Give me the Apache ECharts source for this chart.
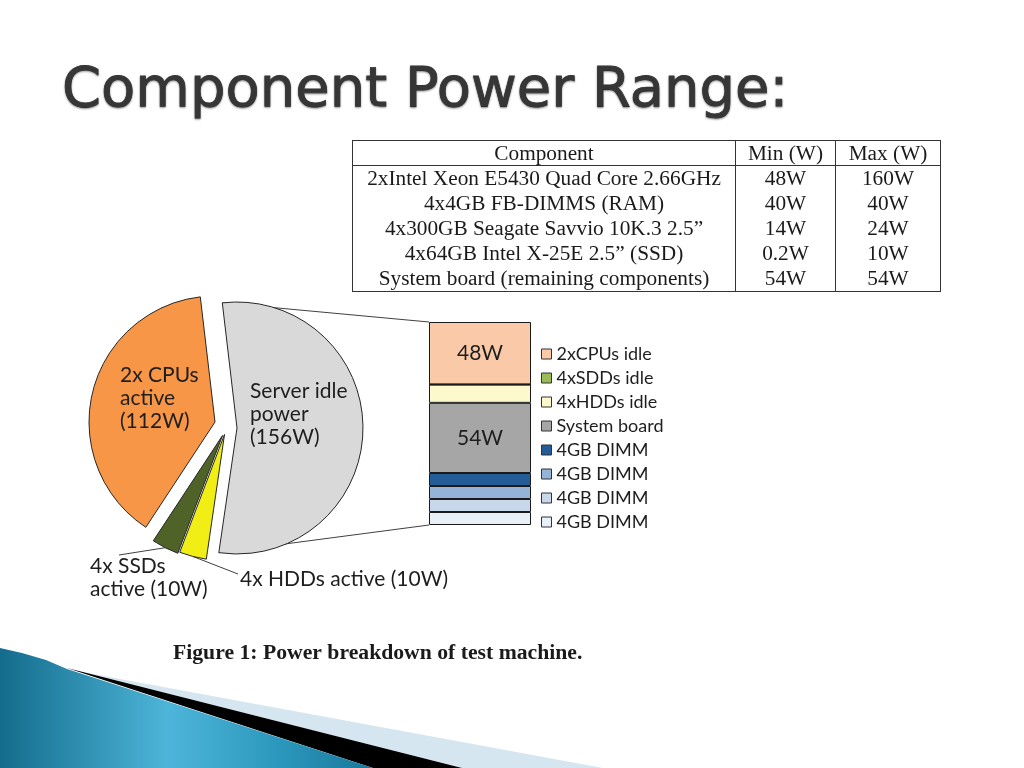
<!DOCTYPE html>
<html><head><meta charset="utf-8">
<script src="https://cdn.jsdelivr.net/npm/echarts@6/dist/echarts.min.js"></script>
<style>
html,body{margin:0;padding:0;background:#fff;}
#chart{position:absolute;left:0;top:0;width:1024px;height:768px;}
#tbl{position:absolute;left:352px;top:140px;border-collapse:collapse;table-layout:fixed;width:589px;font-family:"Liberation Serif",serif;font-size:21.3px;color:#1a1a1a;}
#tbl td{border-left:1px solid #333;border-right:1px solid #333;padding:0;text-align:center;height:25px;line-height:25px;white-space:nowrap;}
#tbl tr.h td{border-top:1px solid #333;border-bottom:1px solid #333;height:24px;line-height:24px;}
#tbl tr:last-child td{border-bottom:1px solid #333;}
</style></head>
<body><div id="chart"></div><table id="tbl"></table>
<script>
// ---- data ----
const tableHeader = ['Component', 'Min (W)', 'Max (W)'];
const tableComponents = ['2xIntel Xeon E5430 Quad Core 2.66GHz', '4x4GB FB-DIMMS (RAM)', '4x300GB Seagate Savvio 10K.3 2.5\u201D', '4x64GB Intel X-25E 2.5\u201D (SSD)', 'System board (remaining components)'];
const tableMin = ['48W', '40W', '14W', '0.2W', '54W'];
const tableMax = ['160W', '40W', '24W', '10W', '54W'];

const pieNames = ['Server idle power', '4x HDDs active', '4x SSDs active', '2x CPUs active'];
const pieValues = [156, 10, 10, 112];
const pieLabels = ['Server idle\npower\n(156W)', '4x HDDs active (10W)', '4x SSDs\nactive (10W)', '2x CPUs\nactive\n(112W)'];

const barNames = ['2xCPUs idle', '4xSDDs idle', '4xHDDs idle', 'System board', '4GB DIMM', '4GB DIMM', '4GB DIMM', '4GB DIMM'];
const barValues = [48, 0.2, 14, 54, 10, 10, 10, 10];
const barSegmentLabels = ['48W', '', '', '54W', '', '', '', ''];

const titleText = 'Component Power Range:';
const captionText = 'Figure 1: Power breakdown of test machine.';

// ---- styles / layout ----
const pieColors = ['#D9D9D9', '#F0EE14', '#4F6228', '#F79646'];
const pieCenters = [[237, 428], [224.5, 434.5], [222.5, 435.5], [215, 422]];
const pieRadius = 126;
const pieStart = 96.7;
const pieLabelPos = [[250, 414], [240, 579], [90, 578], [120, 398]];
const pieLineEnds = [null, [238, 574], [119, 555], null];
const barColors = ['#FAC9A8', '#9BBB59', '#FEF9CC', '#A6A6A6', '#235C97', '#95B3D7', '#C9D7EB', '#E9EFF7'];

// table
(function () {
  let h = '<colgroup><col style="width:383px"><col style="width:100px"><col style="width:105px"></colgroup>';
  h += '<tr class="h">' + tableHeader.map(t => '<td>' + t + '</td>').join('') + '</tr>';
  tableComponents.forEach((c, i) => { h += '<tr><td>' + c + '</td><td>' + tableMin[i] + '</td><td>' + tableMax[i] + '</td></tr>'; });
  document.getElementById('tbl').innerHTML = h;
})();

const chart = echarts.init(document.getElementById('chart'), null, { renderer: 'canvas' });
const labelFont = 'Lato';

const pieSeries = pieValues.map((_, k) => ({
  type: 'pie',
  center: pieCenters[k],
  radius: pieRadius,
  startAngle: pieStart,
  clockwise: true,
  avoidLabelOverlap: false,
  silent: true,
  animation: false,
  data: pieValues.map((v, i) => ({
    name: pieNames[i],
    value: v,
    itemStyle: i === k ? { color: pieColors[i], borderColor: '#262626', borderWidth: 1 } : { color: 'rgba(0,0,0,0)', borderWidth: 0 },
    label: {
      show: i === k,
      position: (i === 0 || i === 3) ? 'inside' : 'outside',
      formatter: pieLabels[i],
      fontFamily: labelFont, fontSize: 21, lineHeight: 23, color: '#1e1e1e'
    },
    labelLine: { show: i === k && (i === 1 || i === 2), length: 8, length2: 8, lineStyle: { color: '#404040', width: 1 } }
  })),
  labelLayout: function (p) {
    if (p.dataIndex !== k) return {};
    const r = { x: pieLabelPos[k][0], y: pieLabelPos[k][1], align: 'left', verticalAlign: 'middle' };
    if (pieLineEnds[k] && p.labelLinePoints) {
      r.labelLinePoints = [p.labelLinePoints[0], pieLineEnds[k]];
    }
    return r;
  }
}));

const barTotal = barValues.reduce((a, b) => a + b, 0);
const barOrder = barValues.map((v, i) => i).reverse();
const barSeries = barOrder.map(i => ({
  name: 'seg' + i,
  type: 'bar',
  stack: 'idle',
  barWidth: '100%',
  silent: true,
  animation: false,
  data: [barValues[i]],
  itemStyle: { color: barColors[i], borderColor: '#1a1a1a', borderWidth: 1 },
  label: { show: !!barSegmentLabels[i], position: 'inside', formatter: barSegmentLabels[i] || '', fontFamily: labelFont, fontSize: 21, color: '#1e1e1e' }
}));

const option = {
  backgroundColor: '#fff',
  animation: false,
  grid: { left: 429, top: 322, width: 102, height: 203 },
  xAxis: { type: 'category', data: ['idle'], show: false },
  yAxis: { type: 'value', min: 0, max: barTotal, show: false },
  legend: {
    orient: 'vertical', left: 541, top: 345, padding: 0,
    itemWidth: 10, itemHeight: 10, itemGap: 6, icon: 'rect',
    selectedMode: false,
    data: barNames.map((n, i) => 'seg' + i),
    formatter: name => barNames[+name.slice(3)],
    textStyle: { fontFamily: labelFont, fontSize: 18, color: '#1e1e1e' },
    itemStyle: { borderColor: '#333', borderWidth: 1 }
  },
  graphic: [
    { id: 'lightband', type: 'polygon', z: 1, silent: true, shape: { points: [[82, 672], [603, 768], [462, 768]] }, style: { fill: '#D6E6F0' } },
    { id: 'blackband', type: 'polygon', z: 2, silent: true, shape: { points: [[67, 668], [462, 768], [373, 768]] }, style: { fill: '#000' } },
    { id: 'blueband', type: 'polygon', z: 3, silent: true, shape: { points: [[0, 648], [22, 653], [46, 660], [67, 669], [373, 768], [0, 768]] },
      style: { fill: new echarts.graphic.LinearGradient(0, 0, 1, 0, [
        { offset: 0, color: '#146C8C' }, { offset: 0.45, color: '#4DB5D9' }, { offset: 0.75, color: '#2C97BC' }, { offset: 1, color: '#17789B' }]) } },
    { id: 'title', type: 'text', x: 62, y: 91, silent: true,
      style: { text: titleText, fontFamily: 'DejaVu Sans', fontSize: 56, fill: '#363636', stroke: '#363636', lineWidth: 0.8, verticalAlign: 'middle',
        textShadowColor: 'rgba(0,0,0,0.4)', textShadowBlur: 2, textShadowOffsetY: 1.5 } },
    { id: 'caption', type: 'text', x: 173, y: 653, silent: true,
      style: { text: captionText, fontFamily: 'Liberation Serif', fontWeight: 'bold', fontSize: 21.7, fill: '#1a1a1a', verticalAlign: 'middle' } }
  ],
  series: pieSeries.concat(barSeries)
};
chart.setOption(option);

// connector lines from the idle-power slice to the idle breakdown bar
(function () {
  const model = chart.getModel();
  const sl = model.getSeriesByIndex(0).getData().getItemLayout(0);
  const topBar = model.getSeriesByIndex(pieSeries.length + barSeries.length - 1).getData().getItemLayout(0);
  const botBar = model.getSeriesByIndex(pieSeries.length).getData().getItemLayout(0);
  const barTop = Math.min(topBar.y, topBar.y + topBar.height);
  const barBot = Math.max(botBar.y, botBar.y + botBar.height);
  const p1 = [sl.cx + sl.r * Math.cos(sl.startAngle), sl.cy + sl.r * Math.sin(sl.startAngle)];
  const p2 = [sl.cx + sl.r * Math.cos(sl.endAngle), sl.cy + sl.r * Math.sin(sl.endAngle)];
  chart.setOption({
    graphic: [
      { id: 'conn1', type: 'line', silent: true, shape: { x1: p1[0], y1: p1[1], x2: topBar.x, y2: barTop }, style: { stroke: '#404040', lineWidth: 1 } },
      { id: 'conn2', type: 'line', silent: true, shape: { x1: p2[0], y1: p2[1], x2: botBar.x, y2: barBot }, style: { stroke: '#404040', lineWidth: 1 } }
    ]
  });
})();
</script></body></html>
